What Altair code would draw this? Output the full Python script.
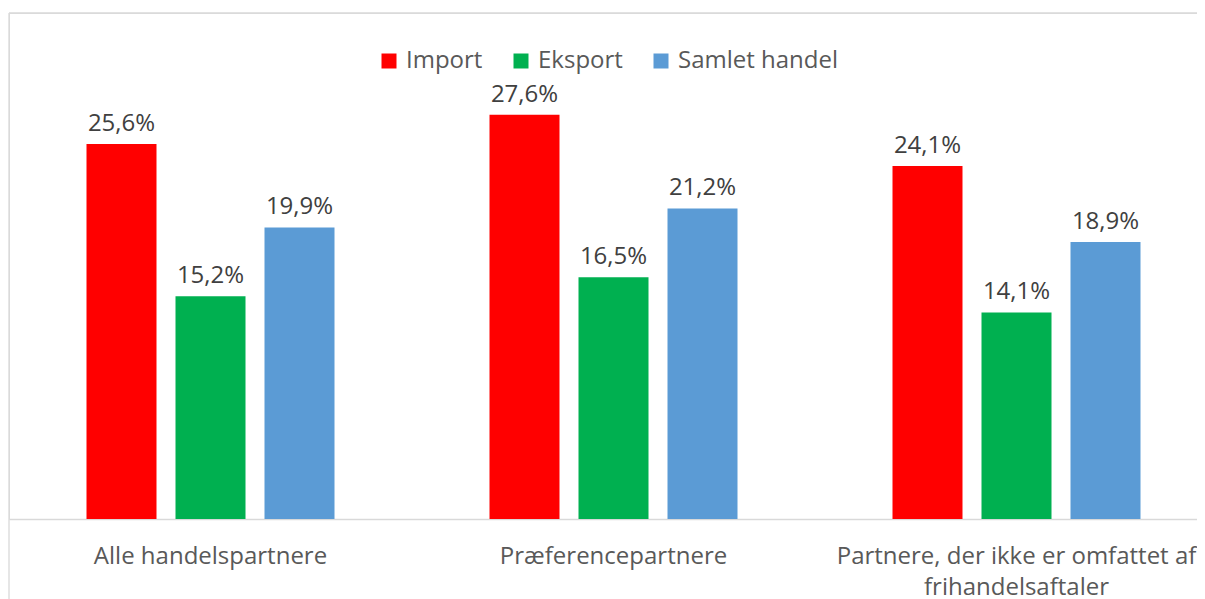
import altair as alt
import pandas as pd

categories = ["Alle handelspartnere", "Præferencepartnere", "Partnere, der ikke er omfattet af\nfrihandelsaftaler"]
series = ["Import", "Eksport", "Samlet handel"]
colors = ["#FF0000", "#00B050", "#5B9BD5"]
import_vals = [25.6, 27.6, 24.1]
eksport_vals = [15.2, 16.5, 14.1]
samlet_vals = [19.9, 21.2, 18.9]

rows = []
for s, vals in zip(series, [import_vals, eksport_vals, samlet_vals]):
    for c, v in zip(categories, vals):
        rows.append({"kategori": c, "serie": s, "værdi": v})
df = pd.DataFrame(rows)

FONT = "Open Sans"
W, H = 1188, 506

x = alt.X("kategori:N", sort=categories, title=None,
          scale=alt.Scale(range=[0, 1209], paddingInner=0.3846, paddingOuter=0.1923),
          axis=alt.Axis(labelAngle=0, labelFont=FONT, labelFontSize=24, labelColor="#595959",
                        labelExpr="split(datum.label, '\\n')", labelLineHeight=31,
                        labelBaseline="alphabetic", labelPadding=44, labelLimit=0,
                        labelOverlap=False, ticks=False, domainColor="#d9d9d9", domainWidth=1.3,
                        grid=False))
xo = alt.XOffset("serie:N", sort=series,
                 scale=alt.Scale(paddingInner=0.2135, paddingOuter=0))
y = alt.Y("værdi:Q", axis=None, scale=alt.Scale(domain=[0, 34.54], nice=False, zero=True))

base = alt.Chart(df)

bars = base.mark_bar().encode(
    x=x, xOffset=xo, y=y,
    color=alt.Color("serie:N", sort=series,
                    scale=alt.Scale(domain=series, range=colors),
                    legend=alt.Legend(title=None, orient="none", legendX=368, legendY=36,
                                      direction="horizontal", symbolType="square",
                                      symbolSize=225, symbolStrokeWidth=0, labelFont=FONT,
                                      labelFontSize=24, labelColor="#595959", labelOffset=5,
                                      columnPadding=26, labelLimit=0)),
)

labels = base.transform_calculate(
    lbl="replace(format(datum['værdi'], '.1f'), '.', ',') + '%'"
).mark_text(font=FONT, fontSize=24, color="#404040", baseline="alphabetic", dy=-13).encode(
    x=x, xOffset=xo, y=y, text="lbl:N"
)

top_border = alt.Chart(pd.DataFrame({"a": [0]})).mark_rule(color="#d9d9d9", strokeWidth=1.3).encode(
    x=alt.value(0), x2=alt.value(W), y=alt.value(0)
)
left_border = alt.Chart(pd.DataFrame({"a": [0]})).mark_rule(color="#d9d9d9", strokeWidth=1.3).encode(
    x=alt.value(0), y=alt.value(0), y2=alt.value(620)
)

chart = alt.layer(bars, labels, top_border, left_border).properties(
    width=W, height=H,
    autosize=alt.AutoSizeParams(type="none"),
    padding={"left": 1, "top": 5, "right": 0, "bottom": 80},
).configure_view(stroke=None).configure(background="white")

chart.save("out.html", embed_options={"renderer": "svg", "actions": False})
